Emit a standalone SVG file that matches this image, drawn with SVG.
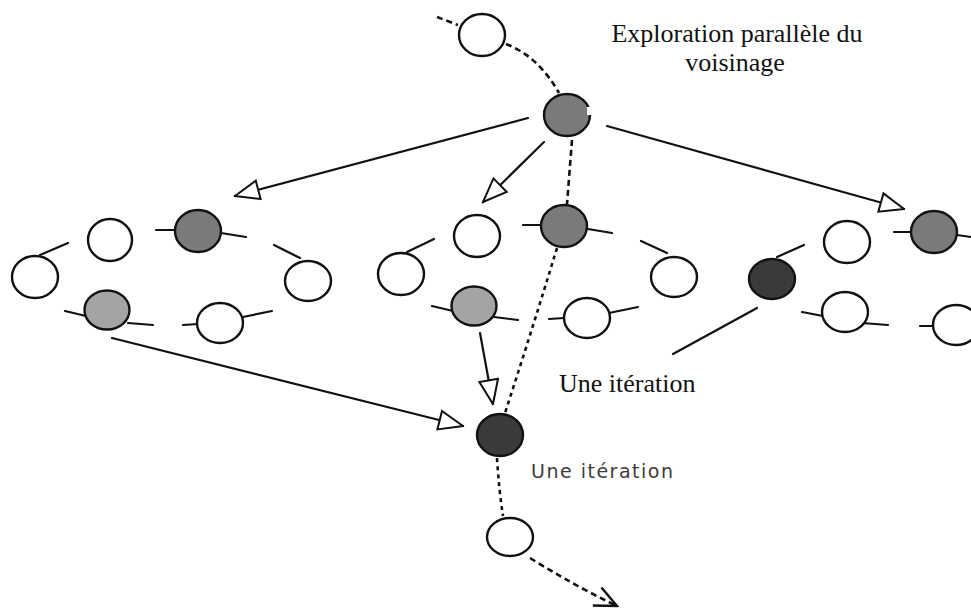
<svg xmlns="http://www.w3.org/2000/svg" width="971" height="612" viewBox="0 0 971 612">
  <style>
    .node { stroke: #111; stroke-width: 2.4; }
    .white { fill: #ffffff; }
    .mid { fill: #7a7a7a; }
    .light { fill: #a4a4a4; }
    .dark { fill: #3a3a3a; }
    .link { stroke: #111; stroke-width: 2.2; fill: none; stroke-linecap: round; }
    .dash { stroke: #111; stroke-width: 2.6; fill: none; stroke-dasharray: 6 4; }
    .dot { stroke: #111; stroke-width: 2.6; fill: none; stroke-dasharray: 4 4; }
    .serif { font-family: "Liberation Serif", "Times New Roman", serif; font-size: 26px; fill: #111; }
    .sans { font-family: "DejaVu Sans", Verdana, sans-serif; font-size: 19px; letter-spacing: 1.5px; fill: #3c3c3c; }
  </style>
  <defs>
    <marker id="open-tri" viewBox="0 0 27 22" refX="25.5" refY="11" markerWidth="27" markerHeight="22" markerUnits="userSpaceOnUse" orient="auto">
      <path d="M1.5,1.5 L25.5,11 L1.5,20.5 Z" fill="#fff" stroke="#111" stroke-width="2"/>
    </marker>
    <marker id="chevron" viewBox="0 0 26 24" refX="24" refY="12" markerWidth="26" markerHeight="24" markerUnits="userSpaceOnUse" orient="auto">
      <path d="M2,2 L24,12 L2,22" fill="none" stroke="#111" stroke-width="2.4"/>
    </marker>
  </defs>

  <rect width="971" height="612" fill="#ffffff"/>

  <!-- connectors -->
  <g id="connectors">
    <!-- search trajectory -->
    <path class="dash" d="M437,17 L458,25"/>
    <path class="dash" d="M506,44 Q538,56 559,93"/>
    <path class="dash" d="M572,140 L567,204"/>
    <path class="dot" d="M557,248 Q532,330 505,413"/>
    <path class="dot" d="M497,458 Q499,490 503,516"/>
    <path class="dash" d="M530,558 Q575,586 617,606" marker-end="url(#chevron)"/>

    <!-- neighbourhood exploration -->
    <path class="link" d="M528,118 L235,196" marker-end="url(#open-tri)"/>
    <path class="link" d="M544,142 L483,202" marker-end="url(#open-tri)"/>
    <path class="link" d="M607,126 L904,209" marker-end="url(#open-tri)"/>

    <!-- best of each neighbourhood -->
    <path class="link" d="M112,338 L463,426" marker-end="url(#open-tri)"/>
    <path class="link" d="M480,333 L493,404" marker-end="url(#open-tri)"/>
    <path class="link" d="M757,308 L673,354"/>

    <!-- neighbourhood ring, left -->
    <path class="link" d="M40,255 L68,243 M156,230 L176,230 M221,233 L246,237 M274,245 L300,258 M65,311 L86,316 M128,323 L153,325 M183,325 L198,324 M243,317 L272,311"/>
    <!-- neighbourhood ring, middle -->
    <path class="link" d="M407,252 L434,239 M523,225 L542,225 M588,229 L612,233 M641,241 L667,253 M432,306 L453,311 M494,317 L518,320 M549,319 L564,318 M609,313 L638,307"/>
    <!-- neighbourhood ring, right -->
    <path class="link" d="M777,257 L804,245 M894,232 L911,232 M957,235 L971,237 M802,312 L823,316 M862,323 L888,325 M920,326 L935,326"/>
  </g>

  <!-- trajectory nodes -->
  <g id="n-top"><ellipse class="node white" cx="482" cy="35" rx="23" ry="21"/></g>
  <g id="n-current">
    <ellipse class="node mid" cx="567" cy="115" rx="23" ry="21"/>
    <rect x="587" y="107" width="5" height="8" fill="#ffffff"/>
  </g>
  <g id="n-next"><ellipse class="node dark" cx="500" cy="435" rx="23" ry="21"/></g>
  <g id="n-after"><ellipse class="node white" cx="510" cy="537" rx="23" ry="19"/></g>

  <!-- left neighbourhood -->
  <g id="a1"><ellipse class="node white" cx="110" cy="240" rx="22" ry="21"/></g>
  <g id="a2"><ellipse class="node mid" cx="198" cy="231" rx="23" ry="21"/></g>
  <g id="a3"><ellipse class="node white" cx="35" cy="277" rx="23" ry="21"/></g>
  <g id="a4"><ellipse class="node white" cx="308" cy="281" rx="23" ry="20"/></g>
  <g id="a5"><ellipse class="node light" cx="107" cy="310" rx="22.5" ry="19.5"/></g>
  <g id="a6"><ellipse class="node white" cx="220" cy="323" rx="23" ry="20"/></g>

  <!-- middle neighbourhood -->
  <g id="b1"><ellipse class="node white" cx="477" cy="236" rx="23" ry="21"/></g>
  <g id="b2"><ellipse class="node mid" cx="564" cy="226" rx="23" ry="21"/></g>
  <g id="b3"><ellipse class="node white" cx="401" cy="274" rx="23" ry="21"/></g>
  <g id="b4"><ellipse class="node white" cx="674" cy="277" rx="23" ry="20"/></g>
  <g id="b5"><ellipse class="node light" cx="474" cy="306" rx="22.5" ry="19.5"/></g>
  <g id="b6"><ellipse class="node white" cx="587" cy="318" rx="23" ry="20"/></g>

  <!-- right neighbourhood -->
  <g id="c1"><ellipse class="node dark" cx="772" cy="279" rx="23" ry="20"/></g>
  <g id="c2"><ellipse class="node white" cx="847" cy="242" rx="23" ry="21"/></g>
  <g id="c3"><ellipse class="node mid" cx="934" cy="232" rx="23" ry="21"/></g>
  <g id="c4"><ellipse class="node white" cx="845" cy="312" rx="23" ry="20"/></g>
  <g id="c5"><ellipse class="node white" cx="956" cy="325" rx="23" ry="20"/></g>

  <!-- labels -->
  <g id="labels">
    <text class="serif" x="737" y="42" text-anchor="middle">Exploration parallèle du</text>
    <text class="serif" x="735" y="71" text-anchor="middle">voisinage</text>
    <text class="serif" x="559" y="392">Une itération</text>
    <text class="sans" x="531" y="478">Une itération</text>
  </g>
</svg>
